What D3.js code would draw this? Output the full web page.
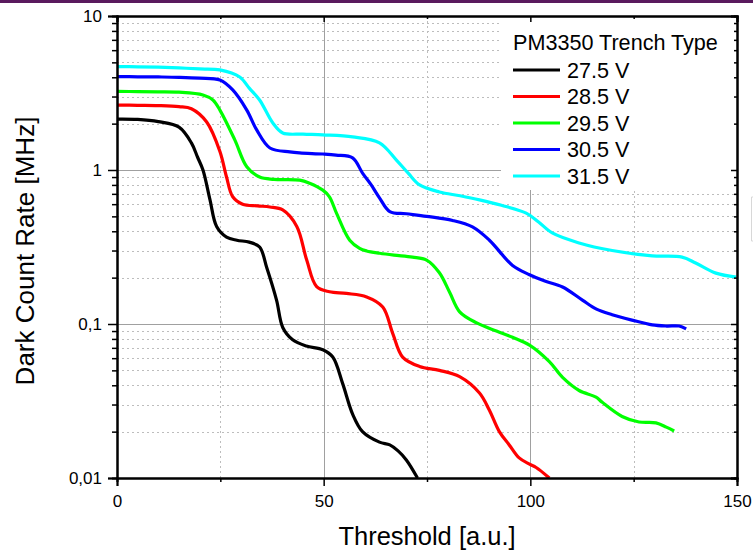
<!DOCTYPE html>
<html>
<head>
<meta charset="utf-8">
<script src="https://cdn.jsdelivr.net/npm/d3@7"></script>
<style>
  body { margin: 0; background: #fff; }
  svg { display: block; font-family: "Liberation Sans", Arial, sans-serif; }
</style>
</head>
<body>
<script>
// dark count rate vs threshold, one curve per bias voltage
var seriesNames = ["27.5 V", "28.5 V", "29.5 V", "30.5 V", "31.5 V"];
var seriesColors = ["#000000", "#ff0000", "#00ff00", "#0000ff", "#00ffff"];

var t275 = [0, 5, 10, 15, 18, 19.5, 20.8, 22.5, 24.1, 26.5, 29, 32, 34.5, 36.2, 38.6, 40.1, 42.5, 45.8, 49.8, 52.2, 54.6, 57, 59.4, 63.5, 66, 68, 70, 72.7];
var v275 = [2.14, 2.13, 2.06, 1.9, 1.5, 1.21, 1.0, 0.64, 0.43, 0.367, 0.35, 0.34, 0.316, 0.234, 0.143, 0.095, 0.079, 0.072, 0.068, 0.061, 0.041, 0.026, 0.020, 0.0171, 0.0164, 0.015, 0.0131, 0.0100];

var t285 = [0, 5, 10, 15, 18, 21.7, 24.9, 26.5, 28, 30.4, 34, 37, 40.1, 43.5, 45.9, 48.3, 51.4, 55.5, 60.4, 64.3, 66.7, 69.1, 73.2, 78, 82.9, 87.7, 90.1, 92.5, 94.9, 97.3, 99.8, 101.4, 104.6];
var v285 = [2.64, 2.63, 2.62, 2.58, 2.5, 2.05, 1.32, 0.90, 0.67, 0.60, 0.585, 0.575, 0.55, 0.43, 0.26, 0.175, 0.162, 0.158, 0.15, 0.129, 0.087, 0.061, 0.053, 0.050, 0.0455, 0.0356, 0.0275, 0.020, 0.0164, 0.0135, 0.0123, 0.0117, 0.0100];

var t295 = [0, 5, 10, 15, 20.8, 23.2, 24.9, 28.5, 31.4, 34.5, 38, 44.2, 46.6, 49.8, 51.4, 53.1, 56.3, 58.7, 60.4, 63.5, 67, 71.5, 74.9, 78, 80.5, 82.9, 86.9, 91.8, 95.7, 99.8, 104.6, 107.8, 111.8, 115.9, 117.4, 122.2, 126.3, 130.4, 132.9, 134.8];
var v295 = [3.24, 3.23, 3.22, 3.2, 3.07, 2.85, 2.45, 1.57, 1.05, 0.90, 0.87, 0.86, 0.82, 0.74, 0.67, 0.525, 0.35, 0.31, 0.298, 0.288, 0.28, 0.272, 0.26, 0.215, 0.16, 0.12, 0.102, 0.090, 0.082, 0.073, 0.057, 0.045, 0.037, 0.0335, 0.031, 0.0251, 0.0231, 0.0228, 0.0214, 0.0202];

var t305 = [0, 5, 10, 15, 20, 24.9, 28, 31.4, 33.8, 37, 41.8, 44.2, 49.8, 53, 57, 59.4, 61.5, 63.5, 66, 70, 74.9, 81.2, 86, 90.1, 95.7, 99.8, 103.5, 107.8, 112.6, 116, 119.8, 124.6, 129.5, 133, 136, 137.7];
var v305 = [4.04, 4.03, 4.02, 4.0, 3.95, 3.84, 3.31, 2.45, 1.82, 1.39, 1.31, 1.29, 1.27, 1.25, 1.2, 0.955, 0.8, 0.66, 0.537, 0.52, 0.50, 0.47, 0.427, 0.35, 0.24, 0.209, 0.19, 0.174, 0.143, 0.125, 0.115, 0.106, 0.0986, 0.097, 0.097, 0.093];

var t315 = [0, 5, 10, 15, 20, 24.9, 29.7, 32, 34.5, 37.7, 40.1, 45, 49.8, 57, 63.5, 67.6, 70.5, 73.2, 78, 83, 87.7, 93, 99, 102, 105.3, 111.8, 119.8, 129.5, 136.7, 140, 144.9, 149.8];
var v315 = [4.69, 4.68, 4.65, 4.6, 4.53, 4.47, 4.02, 3.4, 2.85, 2.02, 1.74, 1.71, 1.69, 1.64, 1.50, 1.16, 0.95, 0.80, 0.72, 0.68, 0.64, 0.59, 0.525, 0.46, 0.39, 0.336, 0.30, 0.277, 0.272, 0.249, 0.214, 0.202];

var xMajor = [0, 50, 100, 150];
var xMinor = [25, 75, 125];
var yMajor = [0.01, 0.1, 1, 10];
var yMajorLabels = ["0,01", "0,1", "1", "10"];

var allT = [t275, t285, t295, t305, t315];
var allV = [v275, v285, v295, v305, v315];

var W = 753, H = 552;
var pLeft = 117, pRight = 737, pTop = 16, pBottom = 478;

var svg = d3.select("body").append("svg")
    .attr("width", W)
    .attr("height", H);

// purple strip along the top
svg.append("rect").attr("x", 0).attr("y", 0).attr("width", W).attr("height", 3).attr("fill", "#5a1a5e");

var x = d3.scaleLinear().domain([0, 150]).range([pLeft, pRight]);
var y = d3.scaleLog().domain([0.01, 10]).range([pBottom, pTop]);

var yMinor = [];
[0.01, 0.1, 1].forEach(function(d) {
    for (var k = 2; k <= 9; k++) yMinor.push(d * k);
});

// grid
var grid = svg.append("g");
grid.selectAll(".gxm").data(xMinor).enter().append("line")
    .attr("x1", function(d) { return Math.round(x(d)) + 0.5; }).attr("x2", function(d) { return Math.round(x(d)) + 0.5; })
    .attr("y1", pTop).attr("y2", pBottom)
    .attr("stroke", "#bdbdbd").attr("stroke-dasharray", "2,3");
grid.selectAll(".gym").data(yMinor).enter().append("line")
    .attr("y1", function(d) { return Math.round(y(d)) + 0.5; }).attr("y2", function(d) { return Math.round(y(d)) + 0.5; })
    .attr("x1", pLeft).attr("x2", pRight)
    .attr("stroke", "#bdbdbd").attr("stroke-dasharray", "2,3");
grid.selectAll(".gx").data([50, 100]).enter().append("line")
    .attr("x1", function(d) { return Math.round(x(d)) + 0.5; }).attr("x2", function(d) { return Math.round(x(d)) + 0.5; })
    .attr("y1", pTop).attr("y2", pBottom)
    .attr("stroke", "#a0a0a0");
grid.selectAll(".gy").data([0.1, 1]).enter().append("line")
    .attr("y1", function(d) { return Math.round(y(d)) + 0.5; }).attr("y2", function(d) { return Math.round(y(d)) + 0.5; })
    .attr("x1", pLeft).attr("x2", pRight)
    .attr("stroke", "#a0a0a0");

// legend box covers the grid behind it
svg.append("rect").attr("x", 501).attr("y", pTop + 1).attr("width", pRight - 501).attr("height", 173).attr("fill", "#fff");

// curves
svg.append("clipPath").attr("id", "clip").append("rect")
    .attr("x", pLeft).attr("y", pTop).attr("width", pRight - pLeft).attr("height", pBottom - pTop);

var line = d3.line()
    .x(function(d) { return x(d[0]); })
    .y(function(d) { return y(d[1]); })
    .curve(d3.curveCatmullRom.alpha(0.5));

var curves = svg.append("g").attr("clip-path", "url(#clip)");
for (var i = 0; i < allT.length; i++) {
    var pts = allT[i].map(function(t, j) { return [t, allV[i][j]]; });
    curves.append("path")
        .attr("d", line(pts))
        .attr("fill", "none")
        .attr("stroke", seriesColors[i])
        .attr("stroke-width", 3.2)
        .attr("stroke-linejoin", "round");
}

// axes
svg.append("g").attr("transform", "translate(0," + pBottom + ")")
    .call(d3.axisBottom(x).tickValues(xMajor).tickFormat(d3.format("d")).tickSize(8).tickPadding(9));
svg.append("g").attr("transform", "translate(0," + pBottom + ")")
    .call(d3.axisBottom(x).tickValues(xMinor).tickFormat("").tickSize(4));
svg.append("g").attr("transform", "translate(" + pLeft + ",0)")
    .call(d3.axisLeft(y).tickValues(yMajor).tickFormat(function(d, i) { return yMajorLabels[i]; }).tickSize(9).tickPadding(6));
svg.append("g").attr("transform", "translate(" + pLeft + ",0)")
    .call(d3.axisLeft(y).tickValues(yMinor).tickFormat("").tickSize(5));
// mirrored top/right with inward ticks
svg.append("g").attr("transform", "translate(0," + pTop + ")")
    .call(d3.axisBottom(x).tickValues(xMajor).tickFormat("").tickSize(6));
svg.append("g").attr("transform", "translate(0," + pTop + ")")
    .call(d3.axisBottom(x).tickValues(xMinor).tickFormat("").tickSize(3));
svg.append("g").attr("transform", "translate(" + pRight + ",0)")
    .call(d3.axisLeft(y).tickValues(yMajor).tickFormat("").tickSize(6));
svg.append("g").attr("transform", "translate(" + pRight + ",0)")
    .call(d3.axisLeft(y).tickValues(yMinor).tickFormat("").tickSize(3));

svg.selectAll(".domain").attr("stroke", "#000").attr("stroke-width", 2);
svg.selectAll(".tick line").attr("stroke", "#000").attr("stroke-width", 1.5);
svg.selectAll(".tick text").attr("fill", "#000")
    .attr("font-size", 17).style("font-size", "17px")
    .style("font-family", "'Liberation Sans', Arial, sans-serif");

// axis titles
svg.append("text").attr("x", 427).attr("y", 545).attr("text-anchor", "middle")
    .style("font-size", "25.5px").text("Threshold [a.u.]");
svg.append("text").attr("transform", "translate(34,251) rotate(-90)").attr("text-anchor", "middle")
    .style("font-size", "26px").text("Dark Count Rate [MHz]");

// legend
var lg = svg.append("g");
lg.append("text").attr("x", 513).attr("y", 50).style("font-size", "21.6px").text("PM3350 Trench Type");
var rows = lg.selectAll(".row").data(seriesNames).enter().append("g")
    .attr("transform", function(d, i) { return "translate(0," + (70 + i * 26.5) + ")"; });
rows.append("line").attr("x1", 513).attr("x2", 560).attr("y1", 0).attr("y2", 0)
    .attr("stroke", function(d, i) { return seriesColors[i]; }).attr("stroke-width", 3);
rows.append("text").attr("x", 567).attr("y", 7.5).style("font-size", "21.6px").text(function(d) { return d; });

// faint edge of a neighbouring box at the right margin
svg.append("path").attr("d", "M753,197 L751.5,197 L751.5,241 L753,241")
    .attr("fill", "none").attr("stroke", "#d8d8d8");
</script>
</body>
</html>
